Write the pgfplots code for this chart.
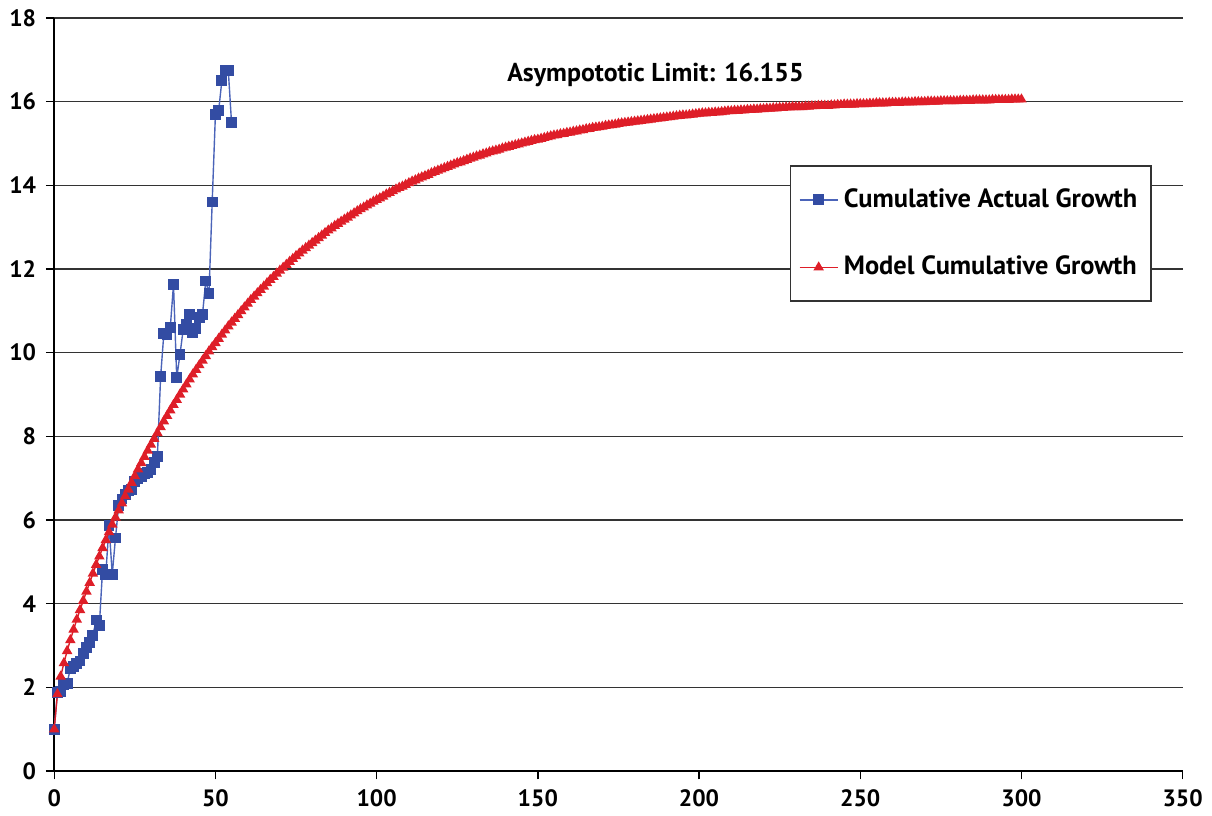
\documentclass[border=0pt]{standalone}
\usepackage{fontspec}
\setmainfont{PT Sans}
\usepackage{pgfplots}
\pgfplotsset{compat=1.18}
\definecolor{actblue}{RGB}{51,76,163}
\definecolor{actline}{RGB}{75,100,185}
\definecolor{modred}{RGB}{222,30,40}

\begin{document}
\begin{tikzpicture}
\begin{axis}[
    scale only axis,
    width=406pt, height=271pt,
    xmin=0, xmax=350, ymin=0, ymax=18,
    xtick={0,50,...,350}, ytick={0,2,...,18},
    axis x line*=bottom, axis y line*=left,
    axis line style={black, line width=0.6pt},
    ymajorgrids,
    major grid style={black!80, line width=0.5pt},
    tick align=outside, major tick length=3pt,
    tick style={black, line width=0.5pt},
    ticklabel style={font=\bfseries\fontsize{8.5}{10}\selectfont},
    /pgf/number format/assume math mode=true,
    legend style={at={(0.652,0.804)}, anchor=north west,
      draw=black!80, line width=0.5pt,
      font=\bfseries\fontsize{9.5}{11}\selectfont,
      inner xsep=3pt, inner ysep=6pt, row sep=12pt},
    legend cell align=left,
    legend image code/.code={
      \draw[mark repeat=2,mark phase=2] plot coordinates {(0cm,0cm) (0.24cm,0cm) (0.48cm,0cm)};},
    clip=false
    ]
% cumulative actual growth
\addplot[color=actline, line width=0.5pt, mark=square*, mark size=1.7pt,
         mark options={fill=actblue, draw=actblue}] coordinates {
(0,1.00) (1,1.88) (2,1.90) (3,2.07) (4,2.10) (5,2.45) (6,2.50) (7,2.58)
(8,2.63) (9,2.80) (10,2.96) (11,3.08) (12,3.24) (13,3.61) (14,3.48) (15,4.82)
(16,4.70) (17,5.87) (18,4.70) (19,5.57) (20,6.35) (21,6.50) (22,6.60) (23,6.70)
(24,6.72) (25,6.92) (26,7.00) (27,7.03) (28,7.12) (29,7.14) (30,7.20) (31,7.37)
(32,7.52) (33,9.42) (34,10.45) (35,10.42) (36,10.60) (37,11.63) (38,9.40) (39,9.95)
(40,10.55) (41,10.68) (42,10.92) (43,10.48) (44,10.57) (45,10.84) (46,10.92) (47,11.71)
(48,11.41) (49,13.60) (50,15.69) (51,15.78) (52,16.50) (53,16.74) (54,16.74) (55,15.49)
};
% model cumulative growth
\addplot[color=modred, line width=0.5pt, mark=triangle*, mark size=1.7pt,
         mark options={fill=modred, draw=modred}] coordinates {
(0,1.00) (1,1.84) (2,2.26) (3,2.58) (4,2.87) (5,3.13) (6,3.38) (7,3.62)
(8,3.85) (9,4.07) (10,4.29) (11,4.50) (12,4.72) (13,4.93) (14,5.13) (15,5.33)
(16,5.52) (17,5.71) (18,5.89) (19,6.06) (20,6.23) (21,6.40) (22,6.57) (23,6.73)
(24,6.89) (25,7.05) (26,7.21) (27,7.36) (28,7.51) (29,7.66) (30,7.80) (31,7.94)
(32,8.08) (33,8.22) (34,8.36) (35,8.49) (36,8.62) (37,8.75) (38,8.87) (39,9.00)
(40,9.12) (41,9.24) (42,9.36) (43,9.48) (44,9.59) (45,9.70) (46,9.81) (47,9.92)
(48,10.03) (49,10.13) (50,10.23) (51,10.33) (52,10.43) (53,10.53) (54,10.63) (55,10.72)
(56,10.81) (57,10.90) (58,10.99) (59,11.08) (60,11.17) (61,11.26) (62,11.34) (63,11.42)
(64,11.50) (65,11.58) (66,11.66) (67,11.74) (68,11.81) (69,11.89) (70,11.96) (71,12.03)
(72,12.10) (73,12.17) (74,12.24) (75,12.31) (76,12.37) (77,12.44) (78,12.50) (79,12.56)
(80,12.62) (81,12.68) (82,12.74) (83,12.80) (84,12.86) (85,12.92) (86,12.97) (87,13.03)
(88,13.08) (89,13.13) (90,13.18) (91,13.23) (92,13.28) (93,13.33) (94,13.38) (95,13.43)
(96,13.47) (97,13.52) (98,13.56) (99,13.61) (100,13.65) (101,13.69) (102,13.73) (103,13.78)
(104,13.82) (105,13.86) (106,13.90) (107,13.94) (108,13.97) (109,14.01) (110,14.05) (111,14.09)
(112,14.12) (113,14.16) (114,14.19) (115,14.22) (116,14.25) (117,14.29) (118,14.32) (119,14.35)
(120,14.38) (121,14.41) (122,14.44) (123,14.47) (124,14.50) (125,14.53) (126,14.55) (127,14.58)
(128,14.61) (129,14.64) (130,14.66) (131,14.69) (132,14.71) (133,14.74) (134,14.76) (135,14.79)
(136,14.81) (137,14.83) (138,14.85) (139,14.88) (140,14.90) (141,14.92) (142,14.94) (143,14.96)
(144,14.98) (145,15.00) (146,15.02) (147,15.04) (148,15.06) (149,15.08) (150,15.09) (151,15.11)
(152,15.13) (153,15.15) (154,15.17) (155,15.19) (156,15.20) (157,15.22) (158,15.23) (159,15.25)
(160,15.26) (161,15.28) (162,15.29) (163,15.31) (164,15.32) (165,15.34) (166,15.35) (167,15.37)
(168,15.38) (169,15.39) (170,15.40) (171,15.42) (172,15.43) (173,15.44) (174,15.45) (175,15.47)
(176,15.48) (177,15.49) (178,15.50) (179,15.51) (180,15.52) (181,15.53) (182,15.54) (183,15.55)
(184,15.56) (185,15.57) (186,15.58) (187,15.59) (188,15.60) (189,15.61) (190,15.62) (191,15.63)
(192,15.64) (193,15.65) (194,15.66) (195,15.67) (196,15.67) (197,15.68) (198,15.69) (199,15.70)
(200,15.71) (201,15.72) (202,15.72) (203,15.73) (204,15.73) (205,15.74) (206,15.74) (207,15.75)
(208,15.76) (209,15.77) (210,15.77) (211,15.78) (212,15.78) (213,15.79) (214,15.79) (215,15.80)
(216,15.80) (217,15.81) (218,15.81) (219,15.82) (220,15.82) (221,15.83) (222,15.83) (223,15.84)
(224,15.84) (225,15.85) (226,15.85) (227,15.86) (228,15.86) (229,15.87) (230,15.87) (231,15.87)
(232,15.87) (233,15.88) (234,15.88) (235,15.89) (236,15.89) (237,15.90) (238,15.90) (239,15.90)
(240,15.90) (241,15.91) (242,15.91) (243,15.92) (244,15.92) (245,15.93) (246,15.93) (247,15.93)
(248,15.93) (249,15.94) (250,15.94) (251,15.94) (252,15.94) (253,15.95) (254,15.95) (255,15.96)
(256,15.96) (257,15.96) (258,15.96) (259,15.97) (260,15.97) (261,15.97) (262,15.97) (263,15.98)
(264,15.98) (265,15.98) (266,15.98) (267,15.99) (268,15.99) (269,15.99) (270,15.99) (271,16.00)
(272,16.00) (273,16.00) (274,16.00) (275,16.01) (276,16.01) (277,16.01) (278,16.01) (279,16.01)
(280,16.01) (281,16.02) (282,16.02) (283,16.02) (284,16.02) (285,16.03) (286,16.03) (287,16.03)
(288,16.03) (289,16.03) (290,16.03) (291,16.04) (292,16.04) (293,16.04) (294,16.04) (295,16.04)
(296,16.04) (297,16.05) (298,16.05) (299,16.05) (300,16.05)
};
\legend{Cumulative Actual Growth, Model Cumulative Growth}
\node[font=\bfseries\fontsize{9.3}{11}\selectfont] at (axis cs:186.5,16.64) {Asympototic Limit: 16.155};
\end{axis}
\end{tikzpicture}
\end{document}
